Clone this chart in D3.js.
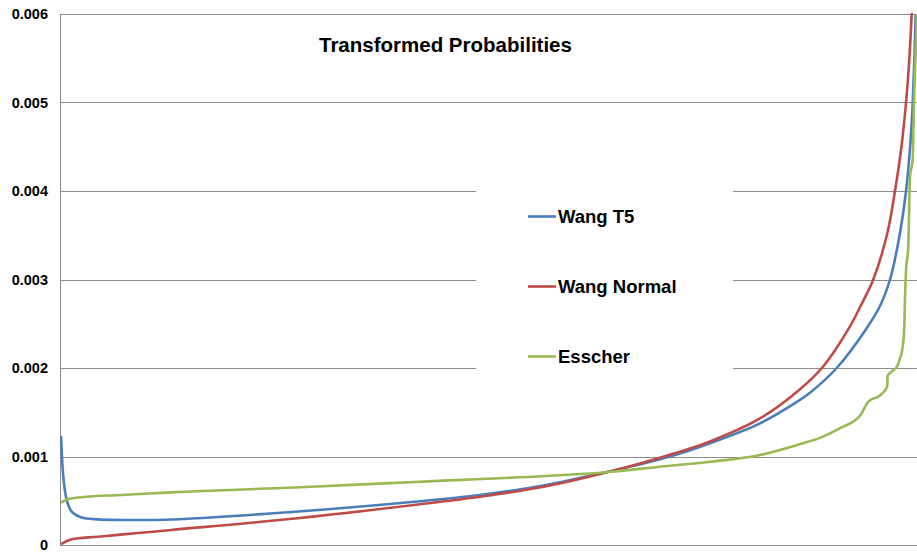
<!DOCTYPE html>
<html>
<head>
<meta charset="utf-8">
<script src="https://cdn.jsdelivr.net/npm/d3@7"></script>
<style>
  body { margin: 0; background: #fff; }
  text { font-family: "Liberation Sans", Arial, sans-serif; font-weight: bold; fill: #000; }
</style>
</head>
<body>
<div id="viz-container"></div>
<script>
// values, x = rank (0..100), y = probability
let wangT5X = [0.12, 0.39, 0.78, 1.37, 2.53, 4.43, 9.1, 13.03, 27.42, 42.01, 49.0, 56.59, 63.36, 71.18, 75.85, 81.68, 86.35, 87.51, 90.63, 94.13, 95.68, 96.85, 97.82, 98.72, 99.26, 99.5, 99.69, 99.85];
let wangT5Y = [0.00123, 0.00077, 0.00051, 0.000376, 0.00031, 0.00029, 0.000282, 0.000288, 0.000376, 0.000495, 0.000565, 0.000675, 0.000815, 0.001, 0.00115, 0.001375, 0.00164, 0.00172, 0.002, 0.00245, 0.0027, 0.003, 0.00342, 0.004, 0.00458, 0.005, 0.00548, 0.006];

let wangNormalX = [0.12, 1.37, 4.43, 9.1, 13.03, 27.42, 42.01, 49.0, 56.59, 63.36, 71.18, 75.85, 81.68, 86.35, 89.07, 92.18, 93.52, 94.9, 96.53, 97.43, 98.21, 98.72, 99.1, 99.38, 99.55];
let wangNormalY = [0.00001, 0.000064, 0.000094, 0.000135, 0.00017, 0.0003, 0.00046, 0.000545, 0.00066, 0.00081, 0.00102, 0.00117, 0.00143, 0.00176, 0.00202, 0.00247, 0.00272, 0.003, 0.00352, 0.004, 0.00452, 0.005, 0.00548, 0.006, 0.0064];

let esscherX = [0.12, 0.97, 2.53, 7.2, 13.03, 27.42, 42.01, 56.59, 63.36, 70.01, 75.85, 81.68, 86.35, 88.68, 91.02, 93.35, 94.32, 95.68, 96.53, 96.56, 97.05, 97.63, 98.02, 98.33, 98.52, 98.6, 98.72, 98.98, 99.18, 99.49, 99.65, 99.85, 100];
let esscherY = [0.00048, 0.00052, 0.00054, 0.000565, 0.000595, 0.00065, 0.000715, 0.00078, 0.00082, 0.000885, 0.00094, 0.001017, 0.00114, 0.00121, 0.00132, 0.00146, 0.00162, 0.00169, 0.00179, 0.00191, 0.00196, 0.00201, 0.00211, 0.00224, 0.00247, 0.0028, 0.0031, 0.00337, 0.00416, 0.00435, 0.00503, 0.00559, 0.006];

let yTicks = [0, 0.001, 0.002, 0.003, 0.004, 0.005, 0.006];
let tickLabels = ['0', '0.001', '0.002', '0.003', '0.004', '0.005', '0.006'];
let seriesNames = ['Wang T5', 'Wang Normal', 'Esscher'];
let seriesColors = ['#4a7ebb', '#be4b48', '#98b954'];

let width = 917;
let height = 557;
let plotLeft = 60, plotRight = 917, plotTop = 14, plotBottom = 545;

let viz = d3.select('#viz-container')
  .append('svg')
  .attr('width', width)
  .attr('height', height);

let xScale = d3.scaleLinear().domain([0, 100]).range([plotLeft, plotRight]);
let yScale = d3.scaleLinear().domain([0, 0.006]).range([plotBottom, plotTop]);

// gridlines
viz.selectAll('.grid').data(yTicks).enter()
  .append('line')
  .attr('class', 'grid')
  .attr('x1', plotLeft)
  .attr('x2', plotRight)
  .attr('y1', d => Math.round(yScale(d)) + 0.5)
  .attr('y2', d => Math.round(yScale(d)) + 0.5)
  .attr('stroke', '#8c8c8c')
  .attr('stroke-width', 1);

viz.append('line')
  .attr('x1', plotLeft + 0.5).attr('x2', plotLeft + 0.5)
  .attr('y1', plotTop).attr('y2', plotBottom + 1)
  .attr('stroke', '#8c8c8c');

// tick labels
viz.selectAll('.tick-label').data(yTicks).enter()
  .append('text')
  .attr('class', 'tick-label')
  .attr('x', 48)
  .attr('y', d => yScale(d) + 5)
  .attr('text-anchor', 'end')
  .attr('font-size', 14.5)
  .text((d, i) => tickLabels[i]);

viz.append('clipPath').attr('id', 'plot-clip')
  .append('rect')
  .attr('x', plotLeft).attr('y', plotTop - 1)
  .attr('width', plotRight - plotLeft).attr('height', plotBottom - plotTop + 2);

// smooth curves for the two Wang series, the Esscher one is steppy
let smoothLine = d3.line()
  .x(d => xScale(d[0]))
  .y(d => yScale(d[1]))
  .curve(d3.curveCatmullRom.alpha(0.5));
let steppyLine = d3.line()
  .x(d => xScale(d[0]))
  .y(d => yScale(d[1]))
  .curve(d3.curveMonotoneX);

let series = [
  d3.zip(wangT5X, wangT5Y),
  d3.zip(wangNormalX, wangNormalY),
  d3.zip(esscherX, esscherY)
];

viz.append('g').attr('clip-path', 'url(#plot-clip)')
  .selectAll('.series').data(series).enter()
  .append('path')
  .attr('class', 'series')
  .attr('d', (d, i) => i < 2 ? smoothLine(d) : steppyLine(d))
  .attr('fill', 'none')
  .attr('stroke', (d, i) => seriesColors[i])
  .attr('stroke-width', 2.6);

// title
viz.append('text')
  .attr('x', 319)
  .attr('y', 52)
  .attr('font-size', 20.5)
  .text('Transformed Probabilities');

// legend
let legend = viz.append('g');
legend.append('rect')
  .attr('x', 476).attr('y', 184)
  .attr('width', 257).attr('height', 192)
  .attr('fill', '#fff');

let legendY = d3.scalePoint().domain(seriesNames).range([216.5, 356.5]);

legend.selectAll('.key').data(seriesNames).enter()
  .append('line')
  .attr('x1', 528).attr('x2', 556)
  .attr('y1', d => legendY(d)).attr('y2', d => legendY(d))
  .attr('stroke', (d, i) => seriesColors[i])
  .attr('stroke-width', 2.6);

legend.selectAll('.key-label').data(seriesNames).enter()
  .append('text')
  .attr('x', 558)
  .attr('y', d => legendY(d) + 6.8)
  .attr('font-size', 18.5)
  .text(d => d);
</script>
</body>
</html>
